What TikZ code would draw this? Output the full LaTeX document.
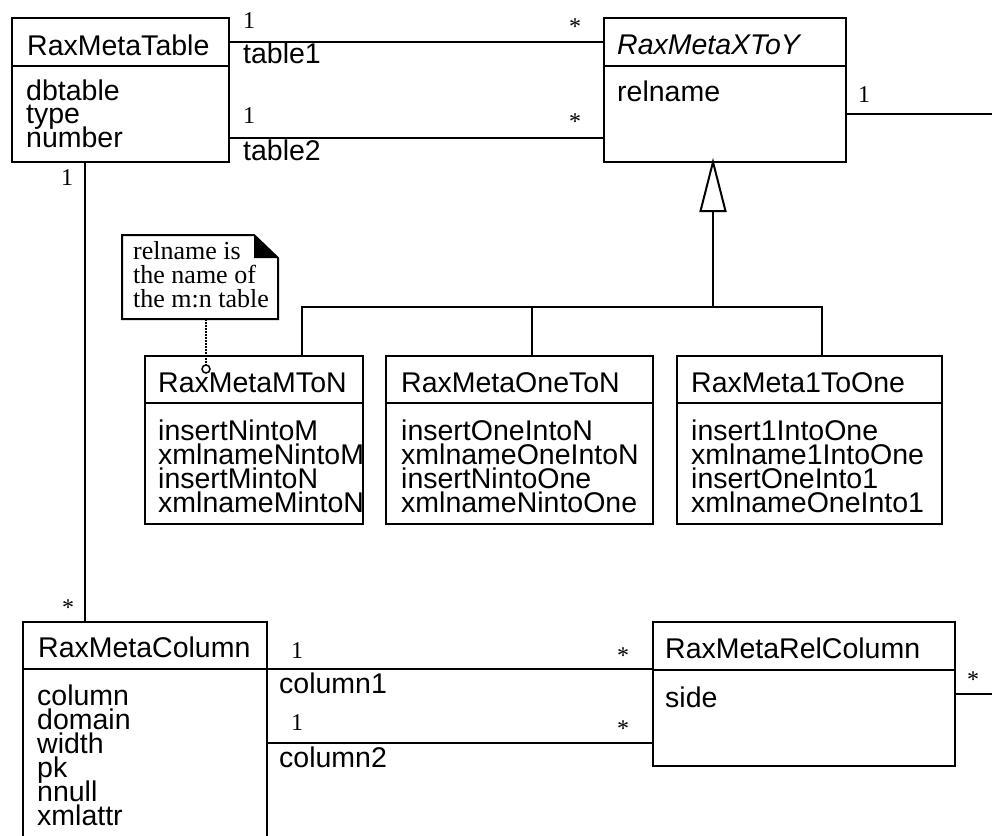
\documentclass[tikz,border=0pt]{standalone}
\usepackage{fontspec}
\setmainfont{Liberation Serif}
\newfontfamily\uisans{Liberation Sans}
\usetikzlibrary{calc}

\tikzset{
  classbox/.style={draw, line width=2.2pt, inner sep=0pt, outer sep=0pt, anchor=north west},
  conn/.style={line width=2pt},
  clsname/.style={font=\uisans\fontsize{28.5}{30}\selectfont, inner sep=0pt, anchor=base west},
  absname/.style={font=\uisans\itshape\fontsize{28.5}{30}\selectfont, inner sep=0pt, anchor=base west},
  attr/.style={font=\uisans\fontsize{28.5}{30}\selectfont, inner sep=0pt, anchor=base west},
  role/.style={font=\uisans\fontsize{28.5}{30}\selectfont, inner sep=0pt, anchor=base west},
  mult/.style={font=\fontsize{24}{26}\selectfont, inner sep=0pt, anchor=base},
  notetext/.style={font=\fontsize{26}{28}\selectfont, inner sep=0pt, anchor=base west},
}

\begin{document}
\begin{tikzpicture}[x=1pt, y=-1pt]
\useasboundingbox (0,0) rectangle (992,835);

% ---------- class boxes ----------
\node[classbox, minimum width=217pt, minimum height=144pt] (tbl) at (12,18) {};
\draw[line width=2.2pt] (12,66) -- (229,66);
\node[classbox, minimum width=242pt, minimum height=144pt] (xy) at (604,18) {};
\draw[line width=2.2pt] (604,66) -- (846,66);

\node[classbox, minimum width=218pt, minimum height=168pt] (mton) at (145,356) {};
\draw[line width=2.2pt] (145,403) -- (363,403);
\node[classbox, minimum width=267pt, minimum height=168pt] (oton) at (386,356) {};
\draw[line width=2.2pt] (386,403) -- (653,403);
\node[classbox, minimum width=265pt, minimum height=168pt] (oto) at (677,356) {};
\draw[line width=2.2pt] (677,403) -- (942,403);

\node[classbox, minimum width=244pt, minimum height=240pt] (col) at (23,622) {};
\draw[line width=2.2pt] (23,669) -- (267,669);
\node[classbox, minimum width=302pt, minimum height=144pt] (rel) at (653,622) {};
\draw[line width=2.2pt] (653,670) -- (955,670);

% ---------- class names and attributes ----------
\node[clsname] (tblname) at (27,55) {RaxMetaTable};
\node[attr] (tbla) at (26,100) {dbtable};
\node[attr] (tblb) at (26,123.5) {type};
\node[attr] (tblc) at (26,147) {number};

\node[absname] (xyname) at (617,54) {RaxMetaXToY};
\node[attr] (xya) at (617,101) {relname};

\node[clsname] (mtonname) at (158,392) {RaxMetaMToN};
\node[attr] (mtona) at (158,440) {insertNintoM};
\node[attr] (mtonb) at (158,464) {xmlnameNintoM};
\node[attr] (mtonc) at (158,488) {insertMintoN};
\node[attr] (mtond) at (158,512) {xmlnameMintoN};

\node[clsname] (otonname) at (401,392) {RaxMetaOneToN};
\node[attr] (otona) at (401,440) {insertOneIntoN};
\node[attr] (otonb) at (401,464) {xmlnameOneIntoN};
\node[attr] (otonc) at (401,488) {insertNintoOne};
\node[attr] (otond) at (401,512) {xmlnameNintoOne};

\node[clsname] (otoname) at (691,392) {RaxMeta1ToOne};
\node[attr] (otoa) at (691,440) {insert1IntoOne};
\node[attr] (otob) at (691,464) {xmlname1IntoOne};
\node[attr] (otoc) at (691,488) {insertOneInto1};
\node[attr] (otod) at (691,512) {xmlnameOneInto1};

\node[clsname] (colname) at (38,657) {RaxMetaColumn};
\node[attr] (cola) at (37,705) {column};
\node[attr] (colb) at (37,729) {domain};
\node[attr] (colc) at (37,753) {width};
\node[attr] (cold) at (37,777) {pk};
\node[attr] (cole) at (37,801) {nnull};
\node[attr] (colf) at (37,825) {xmlattr};

\node[clsname] (relname) at (665,658) {RaxMetaRelColumn};
\node[attr] (rela) at (665,707) {side};

% ---------- associations ----------
\draw[conn] ([yshift=-24pt]tbl.north east) -- ([yshift=-24pt]xy.north west);
\draw[conn] ([yshift=-120pt]tbl.north east) -- ([yshift=-120pt]xy.north west);
\coordinate (xyout) at (992,114);
\draw[conn] (xy.east |- xyout) -- (xyout);

\draw[conn] ([xshift=73pt]tbl.south west) coordinate (tdown) -- (tdown |- col.north);

\draw[conn] ([yshift=-47pt]col.north east) -- ([yshift=-47pt]rel.north west);
\draw[conn] ([yshift=-121pt]col.north east) -- ([yshift=-121pt]rel.north west);
\coordinate (relout) at (992,694);
\draw[conn] (rel.east |- relout) -- (relout);

% multiplicities and role names
\node[mult] (m1) at (249,28) {1};
\node[mult] (m2) at (575,34) {*};
\node[role] (r1) at (243,63) {table1};
\node[mult] (m3) at (249,123) {1};
\node[mult] (m4) at (575,129) {*};
\node[role] (r2) at (243,160) {table2};
\node[mult] (m5) at (864,102) {1};
\node[mult] (m6) at (67,185) {1};
\node[mult] (m7) at (68,615) {*};
\node[mult] (m8) at (297,658) {1};
\node[mult] (m9) at (623,663) {*};
\node[role] (r3) at (279,693) {column1};
\node[mult] (m10) at (297,730) {1};
\node[mult] (m11) at (623,736) {*};
\node[role] (r4) at (279,767) {column2};
\node[mult] (m12) at (973,687) {*};

% ---------- generalization ----------
\coordinate (tip) at ([xshift=109pt]xy.south west);
\coordinate (tbase) at ($(tip)+(0,49)$);
\coordinate (bar) at (0,307);
\draw[conn, line join=miter] (tip) -- ($(tbase)+(-12.5,0)$) -- ($(tbase)+(12.5,0)$) -- cycle;
\draw[conn] (tbase) -- (tbase |- bar);
\coordinate (d1) at ([xshift=157pt]mton.north west);
\coordinate (d2) at ([xshift=146pt]oton.north west);
\coordinate (d3) at ([xshift=145pt]oto.north west);
\draw[conn] (d1) -- (d1 |- bar) -- (d3 |- bar) -- (d3);
\draw[conn] (d2 |- bar) -- (d2);

% ---------- note ----------
\coordinate (na) at (122,235);
\coordinate (nb) at (278,319);
\draw[line width=2pt, line join=miter] (122,235) -- (254,235) -- (278,258) -- (278,319) -- (122,319) -- cycle;
\fill (254,235) -- (254,258) -- (278,258) -- cycle;
\node[inner sep=0pt, outer sep=0pt, fit/.style={}, minimum width=156pt, minimum height=84pt, anchor=north west] (note) at (na) {};
\node[notetext] (nt1) at (133,259) {relname is};
\node[notetext] (nt2) at (133,283) {the name of};
\node[notetext] (nt3) at (133,307) {the m:n table};
\node[circle, draw, line width=1.5pt, minimum size=8pt, inner sep=0pt, fill=white] (pin) at (206,369) {};
\draw[line width=2pt, densely dotted] ([xshift=84pt]note.south west) -- (pin.north);

\end{tikzpicture}
\end{document}
